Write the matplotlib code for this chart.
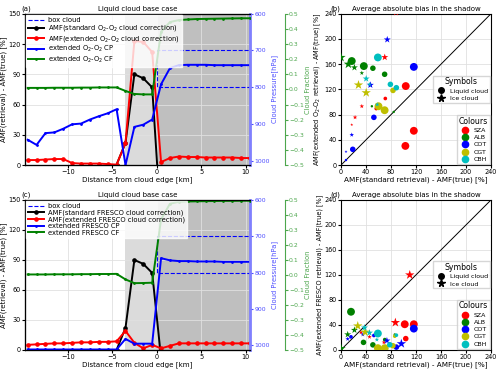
import numpy as np
import matplotlib.pyplot as plt
from matplotlib.lines import Line2D

# distance from cloud edge [km]
dist = [-14.5, -13.5, -12.5, -11.5, -10.5, -9.5, -8.5, -7.5, -6.5, -5.5, -4.5, -3.5, -2.5,
        -1.5, -0.5, 0.5, 1.5, 2.5, 3.5, 4.5, 5.5, 6.5, 7.5, 8.5, 9.5, 10.5]
shadow_dist = [-4.5, -3.5, -2.5, -1.5, -0.5, 0.5]

# panel (a): O2-O2 cloud retrieval
amf_ext_o2 = [5, 5, 5.5, 6, 6, 2, 1.5, 1.5, 1.5, 1, 0.5, 22, 123, 122, 112, 3, 7, 8.5, 8, 8,
              7.5, 7.5, 7.5, 7.5, 7, 7]
amf_std_o2 = [0.5, 22, 90, 86, 77, -60]
cp_o2 = [943, 957, 925, 923, 913, 901, 899, 888, 879, 871, 860, 1012, 908, 902, 888, 792,
         748, 740, 739, 739, 739, 740, 740, 740, 740, 740]
cf_o2 = [0.01, 0.01, 0.01, 0.011, 0.011, 0.011, 0.012, 0.012, 0.013, 0.013, 0.013, -0.01,
         -0.03, -0.033, -0.033, 0.38, 0.445, 0.458, 0.462, 0.465, 0.466, 0.467, 0.468, 0.469,
         0.47, 0.47]

# panel (c): FRESCO cloud retrieval
amf_ext_fr = [5, 5.5, 6, 6.5, 6.5, 7, 7.5, 7.5, 8, 8, 8.5, 19, 7, 1.5, 5, 1.5, 4, 6.5, 6.5,
              6.5, 6.5, 6.5, 6.5, 6.5, 6.5, 6.5]
amf_std_fr = [0, 22, 90, 86, 77, -8]
cp_fr = [1011, 1011, 1011, 1011, 1011, 1011, 1011, 1011, 1011, 1011, 1011, 982, 995, 995, 995,
         760, 766, 768, 768, 769, 769, 769, 770, 770, 770, 770]
cf_fr = [0.003, 0.003, 0.003, 0.004, 0.004, 0.004, 0.005, 0.005, 0.006, 0.006, 0.007,
         -0.03, -0.055, -0.054, -0.052, 0.37, 0.475, 0.488, 0.49, 0.491, 0.492, 0.493, 0.494,
         0.494, 0.495, 0.495]

# box cloud outline (km, hPa)
box_x = [11, 0, 0, 11]
box_p = [700, 700, 800, 800]

# scatter panels: x, y, size level (1 tiny .. 4 large)
params = ['SZA', 'ALB', 'COT', 'CGT', 'CBH']
colours = ['r', 'g', 'b', 'y', 'c']

b_liq = {
    'SZA': ([103.6, 70.9, 56.4, 116.5, 103], [125.3, 105.6, 89.6, 54.4, 30.4], [4, 2, 2, 4, 4]),
    'ALB': ([17.2, 36.5, 51, 69.8, 49.4, 84.3], [165, 157, 153.6, 144, 93.3, 84.3], [4, 4, 3, 3, 1, 1]),
    'COT': ([116.5, 87.5, 52.6, 18.8, 8], [155.7, 122.7, 75.7, 25, 8], [4, 2, 3, 3, 1]),
    'CGT': ([83.2, 60, 69.8], [118.4, 93.3, 87], [3, 4, 4]),
    'CBH': ([59, 79, 88.6], [170.7, 128, 122.7], [4, 3, 3]),
}
b_ice = {
    'SZA': ([88, 70, 33.3, 22.5, 17.2, 47], [242, 171, 93.3, 75.7, 64, 127], [3, 3, 2, 2, 1, 2]),
    'ALB': ([0, 11.8, 21.5, 33.3], [170.7, 160, 154.7, 146], [4, 4, 3, 2]),
    'COT': ([74, 47, 17.2, 8, 99], [199, 127, 48, 21.3, 243], [3, 3, 2, 1, 2]),
    'CGT': ([28, 40.3], [127, 114.7], [4, 4]),
    'CBH': ([40.3, 45.6, 58], [137, 128, 96], [3, 2, 2]),
}
d_liq = {
    'SZA': ([102, 116.5, 103.6, 54.8], [41, 41, 18, 24.6], [4, 4, 3, 1]),
    'ALB': ([16, 36, 51, 70, 86], [61, 12, 8, 16.4, 24.6], [4, 3, 3, 2, 1]),
    'COT': ([116.5, 88.6, 52.6, 16], [34, 4.4, 23, 20.8], [4, 3, 2, 2]),
    'CGT': ([59, 70, 86, 83], [2.7, 2.7, 21.9, 6.6], [4, 4, 2, 3]),
    'CBH': ([59, 88.6, 78], [26.2, 23.5, 8.2], [4, 2, 3]),
}
d_ice = {
    'SZA': ([110, 87, 45.6, 32, 68.7], [120, 43.7, 20.8, 28, 12], [4, 4, 2, 2, 2]),
    'ALB': ([10.7, 21.5, 0], [24.6, 31.7, 2], [3, 3, 4]),
    'COT': ([96.6, 73.5, 35, 10.7], [9.8, 14.7, 24.6, 17.5], [4, 3, 2, 2]),
    'CGT': ([26.8, 38.6], [38.3, 28.4], [4, 4]),
    'CBH': ([37.6, 45.6, 57.4], [35.5, 27.3, 16.4], [3, 3, 2]),
}

TICK = 4.7
LAB = 5.0
TITLE = 5.0
BLUE = (0.3, 0.3, 1)
GREEN = (0.3, 0.65, 0.3)
plt.rcParams['axes.linewidth'] = 0.8


def line_panel(fig, rect, amf_std, amf_ext, cp, cf, name, letter):
    ax = fig.add_axes(rect)
    ax.axvspan(-3.6, 0, color='grey', alpha=0.28, lw=0)
    ax.axvspan(0, 11, color='grey', alpha=0.5, lw=0)
    ax.grid(True, color='#e0e0e0', lw=0.6)
    l1, = ax.plot(shadow_dist, amf_std, 'k-o', ms=2.3, lw=1.4,
                  label='AMF(standard %s cloud correction)' % name)
    l2, = ax.plot(dist, amf_ext, 'r-o', ms=2.3, lw=1.4,
                  label='AMF(extended %s cloud correction)' % name)
    ax.set_xlim(-14.8, 10.5)
    ax.set_ylim(0, 150)
    ax.set_yticks([0, 30, 60, 90, 120, 150])
    ax.set_xlabel('Distance from cloud edge [km]', fontsize=5.1, labelpad=1)
    ax.set_ylabel('AMF(retrieval) - AMF(true) [%]', fontsize=LAB, labelpad=1)
    ax.tick_params(labelsize=TICK, pad=1, length=2)
    ax.set_title('Liquid cloud base case', fontsize=TITLE, pad=2)
    ax.text(-0.015, 1.01, letter, transform=ax.transAxes, fontsize=TITLE, va='bottom')

    ax2 = ax.twinx()
    l0, = ax2.plot(box_x, box_p, 'b--', lw=0.8, label='box cloud')
    l3, = ax2.plot(dist, cp, 'b.-', ms=2, lw=1.4, label='extended %s CP' % name)
    ax2.set_ylim(1012, 600)
    ax2.set_yticks([600, 700, 800, 900, 1000])
    ax2.set_ylabel('Cloud Pressure[hPa]', color=BLUE, fontsize=4.9, labelpad=1.5)
    ax2.tick_params(labelsize=4.4, colors=BLUE, pad=1, length=2)
    ax2.spines['right'].set_color((0.5, 0.5, 1))
    ax2.spines['right'].set_linewidth(2)

    ax3 = ax.twinx()
    l4, = ax3.plot(dist, cf, 'g.-', ms=2, lw=1.4, label='extended %s CF' % name)
    ax3.set_ylim(-0.5, 0.5)
    ax3.set_yticks(np.linspace(-0.5, 0.5, 11))
    ax3.spines['right'].set_position(('axes', 1.155))
    ax3.spines['right'].set_color(GREEN)
    ax3.set_ylabel('Cloud Fraction', color=GREEN, fontsize=4.9, labelpad=1)
    ax3.tick_params(labelsize=4.4, colors=GREEN, pad=1, length=2)
    ax3.legend(handles=[l0, l1, l2, l3, l4], loc='upper left', fontsize=4.9,
               borderpad=0.3, labelspacing=0.05, handlelength=2.3, handletextpad=0.6,
               borderaxespad=0.2, fancybox=False, edgecolor='white')


def scatter_panel(fig, rect, liq, ice, ylab, letter):
    ax = fig.add_axes(rect)
    ax.grid(True, color='#e0e0e0', lw=0.6)
    ax.plot([0, 240], [0, 240], 'k-', lw=0.7)
    size_c = {1: 3, 2: 7, 3: 16, 4: 32}
    size_s = {1: 5, 2: 12, 3: 28, 4: 50}
    for p, c in zip(params, colours):
        x, y, lev = liq[p]
        ax.scatter(x, y, s=[size_c[v] for v in lev], c=c, marker='o', lw=0, zorder=3)
        x, y, lev = ice[p]
        ax.scatter(x, y, s=[size_s[v] for v in lev], c=c, marker='*', lw=0, zorder=3)
    ax.set_xlim(0, 240)
    ax.set_ylim(0, 240)
    ax.set_xticks(range(0, 241, 40))
    ax.set_yticks(range(0, 241, 40))
    ax.tick_params(labelsize=TICK, pad=1, length=2)
    ax.set_xlabel('AMF(standard retrieval) - AMF(true) [%]', fontsize=5.2, labelpad=1)
    ax.set_ylabel(ylab, fontsize=4.7, labelpad=1)
    ax.set_title('Average absolute bias in the shadow', fontsize=TITLE, pad=2)
    ax.text(-0.07, 1.01, letter, transform=ax.transAxes, fontsize=TITLE, va='bottom')

    sym = [Line2D([], [], color='k', marker='o', ls='', ms=4),
           Line2D([], [], color='k', marker='*', ls='', ms=5.5)]
    leg1 = ax.legend(sym, ['Liquid cloud', 'Ice cloud'], title='Symbols', loc='upper right',
                     bbox_to_anchor=(1.0, 0.6), fontsize=4.5, title_fontsize=5.6,
                     borderpad=0.3, labelspacing=0.3, handletextpad=0.4, fancybox=False,
                     borderaxespad=0.2)
    ax.add_artist(leg1)
    col = [Line2D([], [], color=c, marker='o', ls='', ms=4.5) for c in colours]
    ax.legend(col, params, title='Colours', loc='lower right', fontsize=4.5,
              title_fontsize=5.6, borderpad=0.3, labelspacing=0.3, handletextpad=0.4,
              fancybox=False, borderaxespad=0.2)


fig = plt.figure(figsize=(5, 3.71), dpi=100)
line_panel(fig, [0.05, 0.555, 0.45, 0.408], amf_std_o2, amf_ext_o2, cp_o2, cf_o2,
           'O$_2$-O$_2$', '(a)')
line_panel(fig, [0.05, 0.057, 0.45, 0.404], amf_std_fr, amf_ext_fr, cp_fr, cf_fr,
           'FRESCO', '(c)')
scatter_panel(fig, [0.682, 0.555, 0.3, 0.408], b_liq, b_ice,
              'AMF(extended O$_2$-O$_2$ retrieval) - AMF(true) [%]', '(b)')
scatter_panel(fig, [0.682, 0.057, 0.3, 0.404], d_liq, d_ice,
              'AMF(extended FRESCO retrieval) - AMF(true) [%]', '(d)')
fig.savefig('out.png', dpi=100)
